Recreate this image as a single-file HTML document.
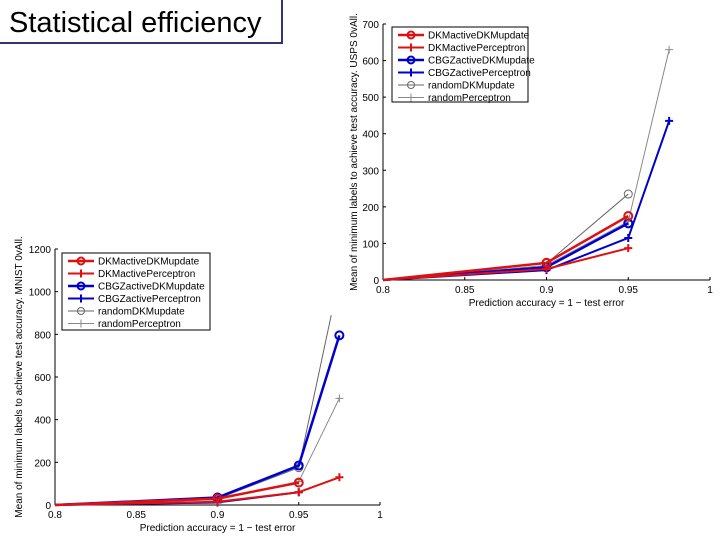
<!DOCTYPE html>
<html><head><meta charset="utf-8">
<style>
html,body{margin:0;padding:0;background:#fff;}
body{width:720px;height:540px;position:relative;overflow:hidden;font-family:"Liberation Sans",sans-serif;}
#title{position:absolute;left:-2px;top:-2px;width:285px;height:46px;border:2px solid #333377;box-sizing:border-box;background:#fff;font-size:29px;line-height:46px;padding-left:9px;color:#000;white-space:nowrap;}
svg{position:absolute;left:0;top:0;}
</style></head>
<body>
<div id="title">Statistical efficiency</div>
<svg id="svg" width="720" height="540"></svg>
<script>
const seriesNames = ["DKMactiveDKMupdate","DKMactivePerceptron","CBGZactiveDKMupdate","CBGZactivePerceptron","randomDKMupdate","randomPerceptron"];
const xTicks = [0.8,0.85,0.9,0.95,1];
const usps_x = [[0.8,0.9,0.95],[0.8,0.9,0.95],[0.8,0.9,0.95],[0.8,0.9,0.95,0.975],[0.8,0.9,0.95],[0.8,0.9,0.95,0.975]];
const usps_y = [[0,47,175],[0,30,87],[0,35,155],[0,27,115,435],[0,45,235],[0,40,160,630]];
const usps_yTicks = [0,100,200,300,400,500,600,700];
const mnist_x = [[0.8,0.9,0.95],[0.8,0.9,0.95,0.975],[0.8,0.9,0.95,0.975],[0.8,0.9,0.95],[0.8,0.9,0.95,0.97],[0.8,0.9,0.95,0.975]];
const mnist_y = [[0,30,105],[0,15,60,130],[0,35,185,795],[0,12,60],[0,30,175,890],[0,25,110,500]];
const mnist_yTicks = [0,200,400,600,800,1000,1200];

const styles=[{c:"#dd1111",w:2.5,m:"o"},{c:"#dd1111",w:2,m:"+"},{c:"#0000cc",w:2.5,m:"o"},{c:"#0000cc",w:2,m:"+"},{c:"#666",w:1,m:"o"},{c:"#888",w:1,m:"+"}];
const NS="http://www.w3.org/2000/svg";
const svg=document.getElementById('svg');
function mk(tag,attrs,parent){const e=document.createElementNS(NS,tag);for(const k in attrs)e.setAttribute(k,attrs[k]);(parent||svg).appendChild(e);return e;}

function chart(cfg){
  const g=mk('g',{});
  
  
  const sx=v=>cfg.L+(v-0.8)/0.2*(cfg.R-cfg.L);
  const sy=v=>cfg.B-v/cfg.ymax*(cfg.B-cfg.T);
  mk('line',{x1:cfg.L,y1:cfg.T,x2:cfg.L,y2:cfg.B,stroke:'#000','stroke-width':1},g);
  mk('line',{x1:cfg.L,y1:cfg.B,x2:cfg.R,y2:cfg.B,stroke:'#000','stroke-width':1},g);
  xTicks.forEach(t=>{
    mk('line',{x1:sx(t),y1:cfg.B,x2:sx(t),y2:cfg.B-3,stroke:'#000'},g);
    const tx=mk('text',{x:sx(t),y:cfg.B+13,'font-size':10,'text-anchor':'middle'},g);
    tx.textContent=t;
    
    
  });
  cfg.yTicks.forEach(t=>{
    mk('line',{x1:cfg.L,y1:sy(t),x2:cfg.L+3,y2:sy(t),stroke:'#000'},g);
    const tx=mk('text',{x:cfg.L-4,y:sy(t)+4,'font-size':10,'text-anchor':'end'},g);
    tx.textContent=t;
    
    
  });
  const xl=mk('text',{x:(cfg.L+cfg.R)/2,y:cfg.B+26,'font-size':10,'text-anchor':'middle'},g);
  xl.textContent="Prediction accuracy = 1 \u2212 test error";
  
  
  const yl=mk('text',{x:0,y:0,'font-size':10,'text-anchor':'middle',transform:`translate(${cfg.ylx},${(cfg.T+cfg.B)/2}) rotate(-90)`},g);
  yl.textContent=cfg.ytitle;
  
  
  for(let i=5;i>=0;i--){
    const s=styles[i];
    const pts=cfg.xs[i].map((x,j)=>sx(x)+','+sy(cfg.ys[i][j])).join(' ');
    const pl=mk('polyline',{points:pts,fill:'none',stroke:s.c,'stroke-width':s.w,'stroke-linejoin':'round'},g);
    
    
    cfg.xs[i].forEach((x,j)=>{
      if(j===0) return;
      if(cfg.nomark && cfg.nomark[i]===j) return;
      const px=sx(x),py=sy(cfg.ys[i][j]);
      if(s.m==='o') mk('circle',{cx:px,cy:py,r:4,fill:'none',stroke:s.c,'stroke-width':s.w>1?2:1},g);
      else {mk('path',{d:`M${px-4},${py}h8M${px},${py-4}v8`,stroke:s.c,'stroke-width':s.w>1?2:1},g);}
    });
  }
  const lg=mk('g',{},g);
  
  
  mk('rect',{x:cfg.lx,y:cfg.ly,width:cfg.lw,height:cfg.lh,fill:'#fff',stroke:'#000','stroke-width':1},lg);
  seriesNames.forEach((n,i)=>{
    const s=styles[i];const y=cfg.ly+8+i*12.5;
    mk('line',{x1:cfg.lx+6,y1:y,x2:cfg.lx+32,y2:y,stroke:s.c,'stroke-width':s.w},lg);
    const cx=cfg.lx+19;
    if(s.m==='o') mk('circle',{cx:cx,cy:y,r:3.5,fill:'none',stroke:s.c,'stroke-width':s.w>1?2:1},lg);
    else mk('path',{d:`M${cx-4},${y}h8M${cx},${y-4}v8`,stroke:s.c,'stroke-width':s.w>1?2:1},lg);
    const t=mk('text',{x:cfg.lx+36,y:y+3.5,'font-size':10},lg);
    t.textContent=n;
    
    
  });
}
chart({name:'usps-chart',L:383,R:710,T:24,B:280,ymax:700,yTicks:usps_yTicks,xs:usps_x,ys:usps_y,ylx:357,
  ytitle:"Mean of minimum labels to achieve test accuracy. USPS 0vAll.",lx:392,ly:27,lw:136,lh:75});
chart({name:'mnist-chart',L:55,R:380,T:249,B:505,ymax:1200,yTicks:mnist_yTicks,xs:mnist_x,ys:mnist_y,ylx:22,nomark:{4:3},
  ytitle:"Mean of minimum labels to achieve test accuracy. MNIST 0vAll.",lx:62,ly:253,lw:148,lh:77});
</script>
</body></html>
